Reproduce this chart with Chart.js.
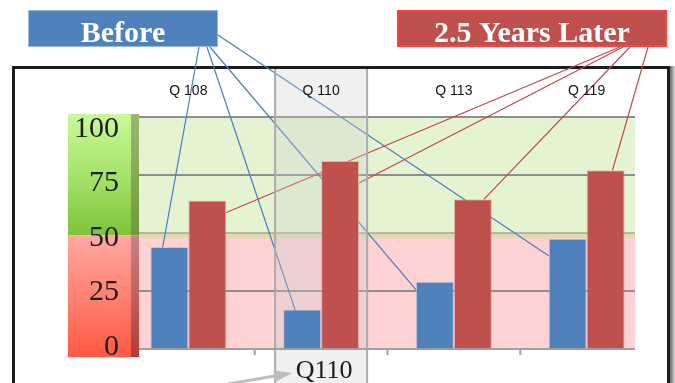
<!DOCTYPE html>
<html>
<head>
<meta charset="utf-8">
<script src="https://cdn.jsdelivr.net/npm/chart.js@4"></script>
<style>
html,body{margin:0;padding:0;background:#fff;overflow:hidden;}
canvas{display:block;}
</style>
</head>
<body>
<canvas id="c" width="675" height="383"></canvas>
<script>
// ---- data ----
const categories = ['Q 108', 'Q 110', 'Q 113', 'Q 119'];
const beforeValues = [44, 17, 29, 47.5];
const laterValues = [64, 81, 64.5, 77];
const yTicks = [0, 25, 50, 75, 100];
const highlightIndex = 1;
const highlightLabel = 'Q110';
const beforeLabel = 'Before';
const laterLabel = '2.5 Years Later';
const greenBand = [50, 100];
const tanBand = [47.5, 50];
const pinkBand = [0, 47.5];

const BLUE = '#4f81bd', RED = '#c0504d';
const SERIF = '"Liberation Serif", "DejaVu Serif", serif';

// connector anchors (annotation layout): [startX, startY, fractionAcrossBar, offsetBelowTop]
const beforeAnchors = [[199,47,0.32,1],[207,47,0.32,1],[210,47,0,8],[218,35,0,17]];
const laterAnchors  = [[620,47,1,12],[623,47,1,22],[630,47,0.79,0],[648,47,0.68,0]];

const deco = {
  id: 'deco',
  beforeDraw(chart) {
    const ctx = chart.ctx, y = chart.scales.y;
    ctx.save();
    ctx.fillStyle = '#fff';
    ctx.fillRect(0, 0, chart.width, chart.height);
    const sg = ctx.createLinearGradient(668, 0, 675, 0);
    sg.addColorStop(0, '#3a3a3a'); sg.addColorStop(1, '#d8d8d8');
    ctx.fillStyle = sg; ctx.fillRect(668, 66, 7, 320);
    ctx.strokeStyle = '#1c1c1c'; ctx.lineWidth = 3;
    ctx.strokeRect(13.5, 67.5, 655, 400);
    const top = y.getPixelForValue(100) - 3, split = y.getPixelForValue(49), bot = y.getPixelForValue(0) + 8;
    let g = ctx.createLinearGradient(0, top, 0, split);
    g.addColorStop(0, '#c9f998'); g.addColorStop(0.55, '#a4e068'); g.addColorStop(1, '#7cc436');
    ctx.fillStyle = g; ctx.fillRect(68, top, 63, split - top);
    g = ctx.createLinearGradient(0, split, 0, bot);
    g.addColorStop(0, '#ffa9a3'); g.addColorStop(1, '#ff5a42');
    ctx.fillStyle = g; ctx.fillRect(68, split, 63, bot - split);
    g = ctx.createLinearGradient(0, top, 0, split);
    g.addColorStop(0, '#9ab872'); g.addColorStop(1, '#6f9a3c');
    ctx.fillStyle = g; ctx.fillRect(131, top, 8, split - top);
    g = ctx.createLinearGradient(0, split, 0, bot);
    g.addColorStop(0, '#c98484'); g.addColorStop(1, '#b63a34');
    ctx.fillStyle = g; ctx.fillRect(131, split, 8, bot - split);
    ctx.restore();
  },
  beforeDatasetsDraw(chart) {
    const ctx = chart.ctx, y = chart.scales.y, x = chart.scales.x;
    const L = 139, R = 635;
    ctx.save();
    const band = (b, col) => {
      const t = y.getPixelForValue(b[1]), bt = y.getPixelForValue(b[0]);
      ctx.fillStyle = col; ctx.fillRect(L, t, R - L, bt - t);
    };
    band(greenBand, '#e4f4d2');
    band(tanBand, '#e6d6b2');
    band(pinkBand, '#fdd2d2');
    ctx.strokeStyle = '#8e8e8e'; ctx.lineWidth = 2;
    yTicks.forEach(v => {
      if (v === 0) return;
      const p = Math.round(y.getPixelForValue(v));
      ctx.globalAlpha = v === 50 ? 0.55 : 1;
      ctx.beginPath(); ctx.moveTo(L, p); ctx.lineTo(R, p); ctx.stroke();
    });
    ctx.globalAlpha = 1;
    const conn = (dsIndex, anchors, col) => {
      const meta = chart.getDatasetMeta(dsIndex);
      ctx.strokeStyle = col; ctx.lineWidth = 1.2;
      meta.data.forEach((bar, i) => {
        const a = anchors[i];
        const left = bar.x - bar.width / 2;
        ctx.beginPath();
        ctx.moveTo(a[0], a[1]);
        ctx.lineTo(left + a[2] * bar.width, bar.y + a[3]);
        ctx.stroke();
      });
    };
    conn(0, beforeAnchors, '#4a7fbf');
    conn(1, laterAnchors, '#c4454a');
    const cx = x.getPixelForValue(highlightIndex);
    ctx.fillStyle = 'rgba(205,205,205,0.3)';
    ctx.fillRect(cx - 46, 69, 92, 320);
    ctx.strokeStyle = '#ababab'; ctx.lineWidth = 2;
    [cx - 46, cx + 46].forEach(px => {
      ctx.beginPath(); ctx.moveTo(px, 69); ctx.lineTo(px, 383); ctx.stroke();
    });
    ctx.restore();
  },
  afterDatasetsDraw(chart) {
    const ctx = chart.ctx, y = chart.scales.y, x = chart.scales.x;
    const L = 139, R = 635;
    ctx.save();
    const p0 = y.getPixelForValue(0);
    ctx.strokeStyle = '#a0a0a0'; ctx.lineWidth = 2;
    ctx.beginPath(); ctx.moveTo(L, p0); ctx.lineTo(R, p0); ctx.stroke();
    for (let i = 1; i < categories.length; i++) {
      const bx = (x.getPixelForValue(i - 1) + x.getPixelForValue(i)) / 2;
      ctx.beginPath(); ctx.moveTo(bx, p0); ctx.lineTo(bx, p0 + 6); ctx.stroke();
    }
    ctx.fillStyle = '#1e1e1e';
    ctx.font = '30px ' + SERIF;
    ctx.textAlign = 'right'; ctx.textBaseline = 'alphabetic';
    yTicks.forEach(v => {
      ctx.fillText(String(v), 119, y.getPixelForValue(v * 0.94) + 6);
    });
    ctx.font = '14px "Liberation Sans Narrow", "Liberation Sans", sans-serif';
    ctx.textAlign = 'center'; ctx.textBaseline = 'middle';
    ctx.fillStyle = '#111';
    categories.forEach((c, i) => ctx.fillText(c, x.getPixelForValue(i), 91));
    ctx.fillStyle = BLUE; ctx.fillRect(28, 10, 190, 37);
    ctx.strokeStyle = '#9cb8dc'; ctx.lineWidth = 1; ctx.strokeRect(28.5, 10.5, 189, 36);
    ctx.fillStyle = RED; ctx.fillRect(397, 10, 270, 37);
    ctx.strokeStyle = '#ff4040'; ctx.lineWidth = 2; ctx.strokeRect(398, 11, 268, 35);
    ctx.fillStyle = '#fff'; ctx.font = 'bold 30px ' + SERIF; ctx.textBaseline = 'alphabetic';
    ctx.fillText(beforeLabel, 123, 42);
    ctx.fillText(laterLabel, 532, 42);
    ctx.strokeStyle = '#bdbdbd'; ctx.fillStyle = '#bdbdbd'; ctx.lineWidth = 3;
    const sx = 228, sy = 384, tx = 292, ty = 373;
    const dx = tx - sx, dy = ty - sy, len = Math.hypot(dx, dy), ux = dx / len, uy = dy / len;
    ctx.beginPath(); ctx.moveTo(sx, sy); ctx.lineTo(tx - ux * 16, ty - uy * 16); ctx.stroke();
    ctx.beginPath();
    ctx.moveTo(tx, ty);
    ctx.lineTo(tx - ux * 18 - uy * 6, ty - uy * 18 + ux * 6);
    ctx.lineTo(tx - ux * 18 + uy * 6, ty - uy * 18 - ux * 6);
    ctx.closePath(); ctx.fill();
    ctx.fillStyle = '#1a1a1a'; ctx.font = '26px ' + SERIF; ctx.textAlign = 'center';
    ctx.fillText(highlightLabel, x.getPixelForValue(highlightIndex) + 3, 378);
    ctx.restore();
  }
};

new Chart(document.getElementById('c'), {
  type: 'bar',
  data: {
    labels: categories,
    datasets: [
      { label: beforeLabel, data: beforeValues, backgroundColor: BLUE, borderColor: 'rgba(160,190,230,0.6)', borderWidth: 1 },
      { label: laterLabel, data: laterValues, backgroundColor: RED, borderColor: 'rgba(230,150,150,0.6)', borderWidth: 1 }
    ]
  },
  options: {
    responsive: false,
    devicePixelRatio: 1,
    animation: false,
    layout: { padding: { left: 122, right: 22, top: 117, bottom: 34 } },
    datasets: { bar: { categoryPercentage: 0.572, barPercentage: 1 } },
    scales: {
      x: { display: false },
      y: { display: false, min: 0, max: 100 }
    },
    plugins: { legend: { display: false }, tooltip: { enabled: false } }
  },
  plugins: [deco]
});
</script>
</body>
</html>
